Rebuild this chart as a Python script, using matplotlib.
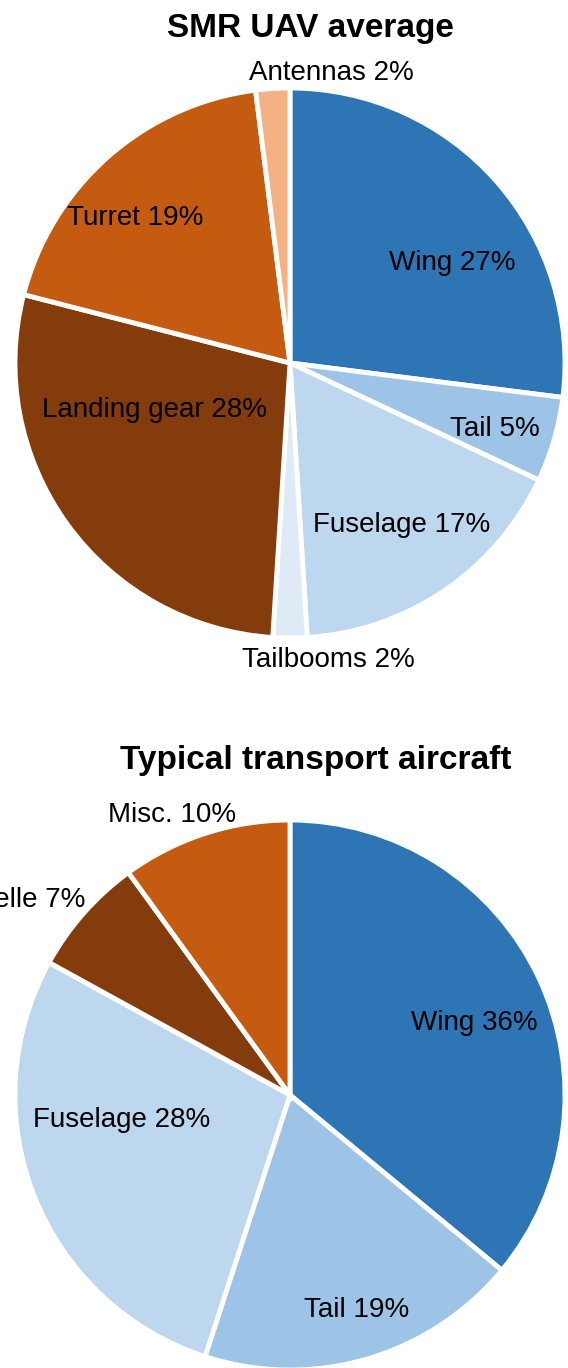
import matplotlib.pyplot as plt

plt.rcParams['font.family'] = ['Liberation Sans', 'DejaVu Sans']

DPI = 100
FIG_W, FIG_H = 568, 1368
RADIUS_PX = 275

# SMR UAV average mass breakdown
uav_parts = ['Wing', 'Tail', 'Fuselage', 'Tailbooms', 'Landing gear', 'Turret', 'Antennas']
uav_share = [27, 5, 17, 2, 28, 19, 2]
uav_colors = ['#2E75B6', '#9DC3E6', '#BDD7EE', '#DEEBF7', '#843C0C', '#C55A11', '#F4B183']
uav_label_xy = [(0.589, 0.364), (0.745, -0.240), (0.407, -0.589), (0.138, -1.080),
                (-0.491, -0.171), (-0.564, 0.527), (0.149, 1.055)]

# typical transport aircraft mass breakdown
tra_parts = ['Wing', 'Tail', 'Fuselage', 'Nacelle', 'Misc.']
tra_share = [36, 19, 28, 7, 10]
tra_colors = ['#2E75B6', '#9DC3E6', '#BDD7EE', '#843C0C', '#C55A11']
tra_label_xy = [(0.669, 0.262), (0.244, -0.782), (-0.611, -0.091), (-0.745, 0.709),
                (-0.429, 1.018)]
tra_label_ha = ['center', 'center', 'center', 'right', 'center']


def make_axes(fig, top_px, bottom_px):
    ax = fig.add_axes([0, 1 - bottom_px / FIG_H, 1, (bottom_px - top_px) / FIG_H])
    ax.set_axis_off()
    return ax


def fit_limits(ax, top_px, bottom_px, cx_px, cy_px):
    # one data unit equals the pie radius in pixels
    ax.set_xlim(-cx_px / RADIUS_PX, (FIG_W - cx_px) / RADIUS_PX)
    ax.set_ylim(-(bottom_px - cy_px) / RADIUS_PX, (cy_px - top_px) / RADIUS_PX)


def draw_pie(ax, title, title_xy, parts, share, colors, label_xy, ha=None):
    ax.pie(share, colors=colors, startangle=90, counterclock=False, radius=1,
           wedgeprops=dict(edgecolor='white', linewidth=3.5))
    for i, (name, val) in enumerate(zip(parts, share)):
        x, y = label_xy[i]
        ax.text(x, y, f'{name} {val}%', fontsize=20, ha=ha[i] if ha else 'center',
                va='center', color='black', clip_on=False)
    ax.text(title_xy[0], title_xy[1], title, fontsize=24, fontweight='bold',
            ha='center', va='center')


fig = plt.figure(figsize=(FIG_W / DPI, FIG_H / DPI), dpi=DPI)

ax_top = make_axes(fig, 0, 684)
draw_pie(ax_top, 'SMR UAV average', (0.073, 1.215), uav_parts, uav_share, uav_colors,
         uav_label_xy)
fit_limits(ax_top, 0, 684, 290, 363)

ax_bot = make_axes(fig, 684, FIG_H)
draw_pie(ax_bot, 'Typical transport aircraft', (0.095, 1.217), tra_parts, tra_share,
         tra_colors, tra_label_xy, tra_label_ha)
fit_limits(ax_bot, 684, FIG_H, 290, 1095)

fig.savefig('out.png', dpi=DPI)
